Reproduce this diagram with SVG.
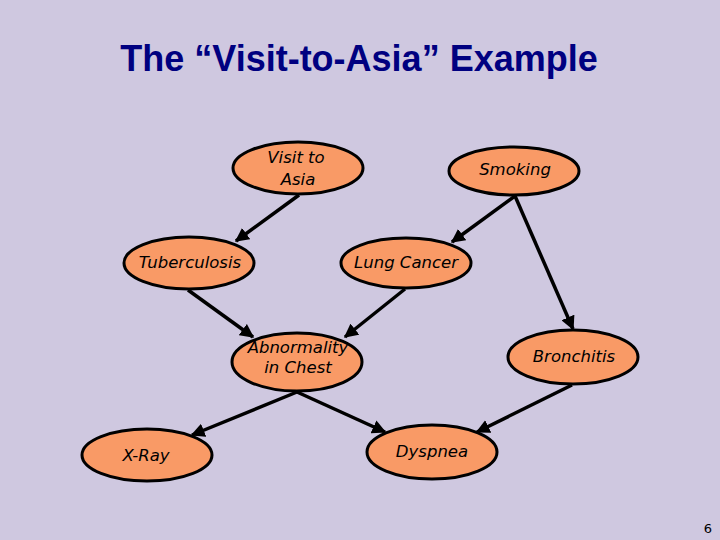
<svg xmlns="http://www.w3.org/2000/svg" width="720" height="540" viewBox="0 0 720 540">
<defs>
<style>
.node ellipse{fill:#F99A66;stroke:#000;stroke-width:3}
.node text{font-family:"DejaVu Sans",sans-serif;font-style:italic;font-size:16.5px;fill:#000;text-anchor:middle}
.edges line{stroke:#000;stroke-width:3.5}
</style>
<marker id="ah" viewBox="0 0 10 10" refX="9" refY="5" markerWidth="4" markerHeight="4" orient="auto" markerUnits="strokeWidth">
<path d="M0,0 L10,5 L0,10 z" fill="#000"/>
</marker>
</defs>
<rect width="720" height="540" fill="#CFC8E0"/>
<text x="359" y="71" font-family="Liberation Sans, Arial, sans-serif" font-weight="bold" font-size="36" fill="#000080" text-anchor="middle">The “Visit-to-Asia” Example</text>
<g id="visit" class="node"><ellipse cx="298" cy="168" rx="65" ry="26"/><text x="296" y="163">Visit to</text><text x="298" y="185">Asia</text></g>
<g id="smoking" class="node"><ellipse cx="514" cy="171" rx="65" ry="24"/><text x="515" y="175">Smoking</text></g>
<g id="tuberculosis" class="node"><ellipse cx="189" cy="263" rx="65" ry="26"/><text x="190" y="268">Tuberculosis</text></g>
<g id="lungcancer" class="node"><ellipse cx="406" cy="263" rx="65" ry="25"/><text x="406" y="268">Lung Cancer</text></g>
<g id="abnormality" class="node"><ellipse cx="297" cy="362" rx="65" ry="29"/><text x="298" y="353">Abnormality</text><text x="298" y="373">in Chest</text></g>
<g id="bronchitis" class="node"><ellipse cx="573" cy="357" rx="65" ry="27"/><text x="574" y="362">Bronchitis</text></g>
<g id="xray" class="node"><ellipse cx="147" cy="455" rx="65" ry="26"/><text x="146" y="461">X-Ray</text></g>
<g id="dyspnea" class="node"><ellipse cx="432" cy="452" rx="65" ry="27"/><text x="432" y="457">Dyspnea</text></g>
<g class="edges">
<line x1="299" y1="195" x2="236" y2="241" marker-end="url(#ah)"/>
<line x1="515" y1="196" x2="452" y2="242" marker-end="url(#ah)"/>
<line x1="515" y1="196" x2="573" y2="329" marker-end="url(#ah)"/>
<line x1="188" y1="290" x2="253" y2="337" marker-end="url(#ah)"/>
<line x1="405" y1="289" x2="345" y2="337" marker-end="url(#ah)"/>
<line x1="297" y1="392" x2="192" y2="435" marker-end="url(#ah)"/>
<line x1="297" y1="392" x2="385" y2="432" marker-end="url(#ah)"/>
<line x1="572" y1="385" x2="477" y2="432" marker-end="url(#ah)"/>
</g>
<text x="708" y="533" font-family="DejaVu Sans, sans-serif" font-size="13" fill="#000" text-anchor="middle">6</text>
</svg>
